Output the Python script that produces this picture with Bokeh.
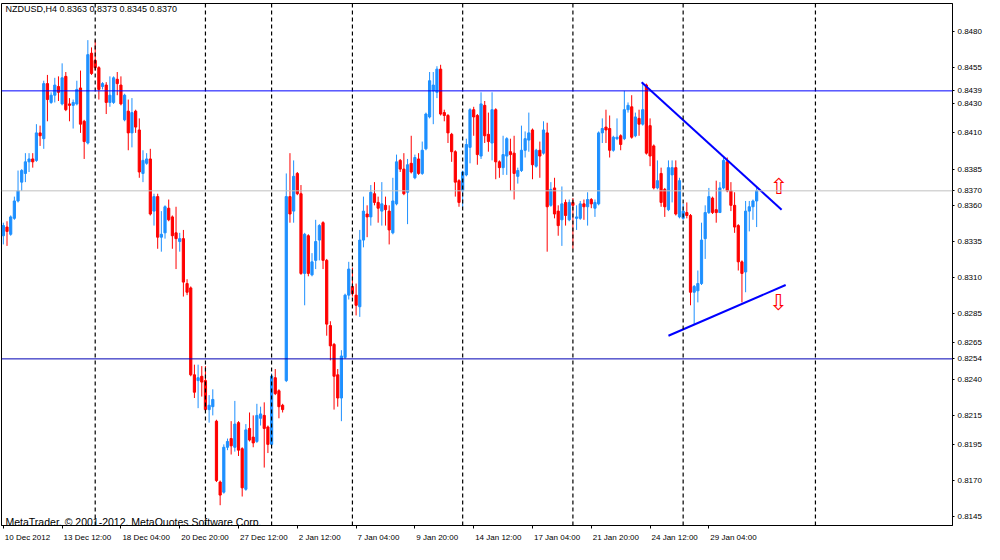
from bokeh.plotting import figure
from bokeh.models import (ColumnDataSource, Span, Label, FixedTicker,
                          Range1d, NumeralTickFormatter)
from bokeh.core.properties import value
from bokeh.embed import file_html
from bokeh.resources import INLINE

symbol_title = "NZDUSD,H4  0.8363 0.8373 0.8345 0.8370"
copyright_text = "MetaTrader, \u00a9 2001-2012, MetaQuotes Software Corp."

open_ = [0.8339, 0.8345, 0.8340, 0.8351, 0.8363, 0.8376, 0.8382, 0.8390, 0.8392, 0.8391,
         0.8410, 0.8406, 0.8444, 0.8431, 0.8436, 0.8442, 0.8430, 0.8449, 0.8430, 0.8429,
         0.8430, 0.8441, 0.8418, 0.8403, 0.8465, 0.8460, 0.8455, 0.8442, 0.8443, 0.8431,
         0.8431, 0.8447, 0.8443, 0.8419, 0.8425, 0.8410, 0.8425, 0.8412, 0.8382, 0.8389,
         0.8392, 0.8356, 0.8366, 0.8338, 0.8341, 0.8358, 0.8352, 0.8341, 0.8335, 0.8337,
         0.8306, 0.8303, 0.8243, 0.8239, 0.8242, 0.8239, 0.8219, 0.8221, 0.8211, 0.8169,
         0.8162, 0.8193, 0.8199, 0.8193, 0.8210, 0.8192, 0.8164, 0.8206, 0.8200, 0.8197,
         0.8213, 0.8215, 0.8207, 0.8195, 0.8241, 0.8232, 0.8222, 0.8239, 0.8366, 0.8356,
         0.8382, 0.8368, 0.8313, 0.8339, 0.8312, 0.8322, 0.8336, 0.8348, 0.8322, 0.8277,
         0.8264, 0.8243, 0.8227, 0.8255, 0.8298, 0.8304, 0.8298, 0.8290, 0.8336, 0.8354,
         0.8352, 0.8368, 0.8362, 0.8356, 0.8360, 0.8356, 0.8341, 0.8361, 0.8391, 0.8385,
         0.8369, 0.8389, 0.8379, 0.8392, 0.8382, 0.8399, 0.8421, 0.8439, 0.8438, 0.8454,
         0.8424, 0.8422, 0.8409, 0.8397, 0.8377, 0.8370, 0.8381, 0.8400, 0.8426, 0.8422,
         0.8394, 0.8429, 0.8409, 0.8403, 0.8426, 0.8390, 0.8386, 0.8394, 0.8397, 0.8396,
         0.8380, 0.8384, 0.8398, 0.8405, 0.8412, 0.8387, 0.8398, 0.8396, 0.8410, 0.8360,
         0.8372, 0.8356, 0.8350, 0.8362, 0.8350, 0.8362, 0.8351, 0.8351, 0.8361, 0.8359,
         0.8364, 0.8358, 0.8361, 0.8410, 0.8414, 0.8413, 0.8398, 0.8406, 0.8408, 0.8406,
         0.8426, 0.8428, 0.8408, 0.8420, 0.8416, 0.8443, 0.8415, 0.8401, 0.8372, 0.8382,
         0.8371, 0.8357, 0.8381, 0.8386, 0.8352, 0.8351, 0.8355, 0.8353, 0.8300, 0.8301,
         0.8306, 0.8337, 0.8355, 0.8365, 0.8357, 0.8355, 0.8372, 0.8390, 0.8370, 0.8360,
         0.8346, 0.8321, 0.8314, 0.8356, 0.8359, 0.8363]

high = [0.8348, 0.8349, 0.8353, 0.8366, 0.8384, 0.8385, 0.8396, 0.8396, 0.8396, 0.8416,
        0.8415, 0.8446, 0.8450, 0.8438, 0.8448, 0.8449, 0.8458, 0.8452, 0.8434, 0.8433,
        0.8446, 0.8453, 0.8419, 0.8474, 0.8469, 0.8474, 0.8456, 0.8445, 0.8445, 0.8449,
        0.8449, 0.8452, 0.8449, 0.8437, 0.8433, 0.8434, 0.8426, 0.8420, 0.8398, 0.8396,
        0.8399, 0.8368, 0.8368, 0.8356, 0.8360, 0.8364, 0.8353, 0.8359, 0.8341, 0.8343,
        0.8309, 0.8304, 0.8250, 0.8250, 0.8249, 0.8249, 0.8229, 0.8233, 0.8212, 0.8170,
        0.8195, 0.8199, 0.8211, 0.8225, 0.8211, 0.8193, 0.8209, 0.8217, 0.8215, 0.8223,
        0.8221, 0.8224, 0.8208, 0.8244, 0.8247, 0.8233, 0.8223, 0.8382, 0.8396, 0.8391,
        0.8383, 0.8374, 0.8341, 0.8340, 0.8327, 0.8350, 0.8347, 0.8349, 0.8323, 0.8280,
        0.8265, 0.8247, 0.8260, 0.8299, 0.8321, 0.8317, 0.8306, 0.8343, 0.8366, 0.8360,
        0.8374, 0.8376, 0.8366, 0.8376, 0.8366, 0.8360, 0.8379, 0.8395, 0.8392, 0.8396,
        0.8392, 0.8408, 0.8395, 0.8396, 0.8404, 0.8424, 0.8452, 0.8452, 0.8456, 0.8457,
        0.8426, 0.8423, 0.8410, 0.8398, 0.8378, 0.8384, 0.8406, 0.8427, 0.8428, 0.8423,
        0.8438, 0.8432, 0.8424, 0.8438, 0.8427, 0.8391, 0.8408, 0.8407, 0.8406, 0.8408,
        0.8386, 0.8415, 0.8411, 0.8424, 0.8413, 0.8399, 0.8404, 0.8418, 0.8417, 0.8376,
        0.8379, 0.8360, 0.8373, 0.8364, 0.8364, 0.8365, 0.8360, 0.8363, 0.8364, 0.8369,
        0.8365, 0.8364, 0.8411, 0.8420, 0.8426, 0.8422, 0.8408, 0.8420, 0.8409, 0.8439,
        0.8431, 0.8436, 0.8424, 0.8426, 0.8445, 0.8444, 0.8420, 0.8402, 0.8391, 0.8386,
        0.8372, 0.8391, 0.8391, 0.8391, 0.8379, 0.8361, 0.8362, 0.8354, 0.8305, 0.8315,
        0.8348, 0.8360, 0.8372, 0.8366, 0.8377, 0.8376, 0.8393, 0.8393, 0.8376, 0.8369,
        0.8347, 0.8322, 0.8363, 0.8363, 0.8364, 0.8373]

low = [0.8333, 0.8332, 0.8339, 0.8350, 0.8362, 0.8370, 0.8376, 0.8383, 0.8386, 0.8390,
       0.8401, 0.8399, 0.8418, 0.8430, 0.8431, 0.8432, 0.8429, 0.8425, 0.8418, 0.8413,
       0.8429, 0.8410, 0.8392, 0.8402, 0.8450, 0.8453, 0.8433, 0.8440, 0.8423, 0.8428,
       0.8430, 0.8436, 0.8429, 0.8418, 0.8398, 0.8400, 0.8410, 0.8379, 0.8376, 0.8388,
       0.8353, 0.8346, 0.8330, 0.8328, 0.8337, 0.8349, 0.8330, 0.8316, 0.8328, 0.8297,
       0.8298, 0.8242, 0.8227, 0.8220, 0.8228, 0.8218, 0.8210, 0.8215, 0.8169, 0.8153,
       0.8161, 0.8191, 0.8188, 0.8190, 0.8187, 0.8159, 0.8163, 0.8197, 0.8193, 0.8196,
       0.8208, 0.8179, 0.8189, 0.8194, 0.8229, 0.8213, 0.8217, 0.8238, 0.8348, 0.8348,
       0.8367, 0.8312, 0.8291, 0.8311, 0.8311, 0.8316, 0.8322, 0.8316, 0.8270, 0.8253,
       0.8219, 0.8221, 0.8211, 0.8254, 0.8295, 0.8297, 0.8284, 0.8283, 0.8331, 0.8338,
       0.8346, 0.8360, 0.8348, 0.8346, 0.8346, 0.8333, 0.8340, 0.8360, 0.8383, 0.8367,
       0.8347, 0.8382, 0.8378, 0.8381, 0.8381, 0.8398, 0.8420, 0.8416, 0.8434, 0.8422,
       0.8418, 0.8403, 0.8390, 0.8366, 0.8359, 0.8359, 0.8380, 0.8389, 0.8408, 0.8388,
       0.8392, 0.8403, 0.8397, 0.8391, 0.8378, 0.8379, 0.8381, 0.8381, 0.8370, 0.8364,
       0.8375, 0.8383, 0.8393, 0.8397, 0.8378, 0.8386, 0.8379, 0.8395, 0.8328, 0.8359,
       0.8351, 0.8339, 0.8332, 0.8346, 0.8349, 0.8330, 0.8343, 0.8350, 0.8350, 0.8346,
       0.8358, 0.8352, 0.8360, 0.8403, 0.8403, 0.8393, 0.8397, 0.8405, 0.8398, 0.8405,
       0.8424, 0.8406, 0.8407, 0.8408, 0.8415, 0.8395, 0.8387, 0.8371, 0.8371, 0.8359,
       0.8352, 0.8356, 0.8362, 0.8353, 0.8351, 0.8350, 0.8351, 0.8291, 0.8278, 0.8293,
       0.8305, 0.8323, 0.8354, 0.8354, 0.8348, 0.8355, 0.8371, 0.8369, 0.8356, 0.8341,
       0.8315, 0.8293, 0.8300, 0.8342, 0.8350, 0.8345]

close = [0.8346, 0.8342, 0.8352, 0.8363, 0.8370, 0.8384, 0.8390, 0.8392, 0.8390, 0.8410,
         0.8408, 0.8444, 0.8433, 0.8436, 0.8443, 0.8438, 0.8448, 0.8426, 0.8429, 0.8431,
         0.8440, 0.8416, 0.8404, 0.8464, 0.8451, 0.8455, 0.8440, 0.8444, 0.8431, 0.8436,
         0.8448, 0.8444, 0.8430, 0.8436, 0.8410, 0.8424, 0.8414, 0.8383, 0.8391, 0.8392,
         0.8354, 0.8366, 0.8338, 0.8340, 0.8359, 0.8350, 0.8339, 0.8337, 0.8337, 0.8307,
         0.8300, 0.8243, 0.8231, 0.8241, 0.8238, 0.8219, 0.8222, 0.8226, 0.8170, 0.8160,
         0.8193, 0.8197, 0.8194, 0.8209, 0.8191, 0.8165, 0.8205, 0.8198, 0.8196, 0.8215,
         0.8216, 0.8206, 0.8195, 0.8242, 0.8230, 0.8221, 0.8219, 0.8366, 0.8354, 0.8380,
         0.8368, 0.8313, 0.8340, 0.8313, 0.8321, 0.8335, 0.8346, 0.8322, 0.8278, 0.8263,
         0.8242, 0.8227, 0.8256, 0.8298, 0.8316, 0.8299, 0.8291, 0.8336, 0.8356, 0.8352,
         0.8369, 0.8362, 0.8358, 0.8361, 0.8357, 0.8343, 0.8363, 0.8390, 0.8385, 0.8368,
         0.8388, 0.8383, 0.8393, 0.8382, 0.8398, 0.8423, 0.8446, 0.8443, 0.8454, 0.8423,
         0.8422, 0.8410, 0.8397, 0.8376, 0.8362, 0.8383, 0.8402, 0.8426, 0.8421, 0.8395,
         0.8430, 0.8408, 0.8404, 0.8426, 0.8390, 0.8386, 0.8395, 0.8406, 0.8395, 0.8382,
         0.8384, 0.8398, 0.8406, 0.8410, 0.8388, 0.8398, 0.8394, 0.8412, 0.8359, 0.8371,
         0.8354, 0.8346, 0.8361, 0.8353, 0.8362, 0.8360, 0.8352, 0.8361, 0.8359, 0.8364,
         0.8361, 0.8362, 0.8410, 0.8413, 0.8412, 0.8398, 0.8407, 0.8407, 0.8402, 0.8426,
         0.8429, 0.8407, 0.8421, 0.8416, 0.8426, 0.8396, 0.8394, 0.8372, 0.8377, 0.8362,
         0.8359, 0.8386, 0.8386, 0.8354, 0.8377, 0.8356, 0.8353, 0.8300, 0.8304, 0.8306,
         0.8336, 0.8355, 0.8366, 0.8355, 0.8355, 0.8372, 0.8391, 0.8370, 0.8360, 0.8345,
         0.8321, 0.8313, 0.8356, 0.8359, 0.8363, 0.8370]

price_ticks = [0.8480, 0.8455, 0.8430, 0.8410, 0.8385, 0.8360, 0.8335, 0.8310,
               0.8285, 0.8265, 0.8240, 0.8215, 0.8195, 0.8170, 0.8145]
time_tick_bars = [0, 16, 32, 48, 64, 80, 96, 112, 128, 144, 160, 176, 192]
time_tick_labels = ["10 Dec 2012", "13 Dec 12:00", "18 Dec 04:00", "20 Dec 20:00",
                    "27 Dec 12:00", "2 Jan 12:00", "7 Jan 04:00", "9 Jan 20:00",
                    "14 Jan 12:00", "17 Jan 04:00", "21 Jan 20:00", "24 Jan 12:00",
                    "29 Jan 04:00"]
separator_bars = [25, 55, 73, 95, 125, 155, 185, 221]

level_prices = [0.8439, 0.8254]
bid_price = 0.8370

trend_x0 = [173.7, 181.0]
trend_y0 = [0.8445, 0.8270]
trend_x1 = [211.8, 212.9]
trend_y1 = [0.8357, 0.8305]

arrow_bars = [211.0, 210.9]
arrow_prices = [0.8373, 0.8293]
arrow_symbols = ["\u21e7", "\u21e9"]

assert len(open_) == len(high) == len(low) == len(close)

BULL = "#1E90FF"
BEAR = "#FF0000"
FONT = "Liberation Sans"
AXIS_PX = 8

n = len(open_)
src = ColumnDataSource(dict(
    x=list(range(n)), o=open_, h=high, l=low, c=close,
    top=[max(a, b) for a, b in zip(open_, close)],
    bottom=[min(a, b) for a, b in zip(open_, close)],
    color=[BULL if c >= o else BEAR for o, c in zip(open_, close)],
))

W, H = 984, 544
MB_LEFT, MB_TOP, MB_RIGHT, MB_BOTTOM = 1, 3, 31, 16
FRAME_W = W - MB_LEFT - MB_RIGHT
FRAME_H = H - MB_TOP - MB_BOTTOM
X0, X1 = -0.5, 258.3

p = figure(width=W, height=H, x_range=Range1d(X0, X1),
           y_range=Range1d(0.81390, 0.84993),
           output_backend="svg", toolbar_location=None,
           y_axis_location="right",
           min_border_left=MB_LEFT, min_border_top=MB_TOP,
           min_border_right=MB_RIGHT, min_border_bottom=MB_BOTTOM,
           background_fill_color="white", border_fill_color="white")
p.grid.visible = False
p.outline_line_color = "black"
p.outline_line_width = 1

# price axis (regular ticks plus the three marked levels)
ya = p.yaxis[0]
ya.ticker = FixedTicker(ticks=price_ticks + level_prices + [bid_price])
ya.formatter = NumeralTickFormatter(format="0.0000")
ya.major_tick_in = 0
ya.major_tick_out = 2
ya.minor_tick_in = 0
ya.minor_tick_out = 0
ya.major_label_standoff = 3
ya.major_label_text_font = FONT
ya.major_label_text_font_size = f"{AXIS_PX}px"
ya.major_label_text_color = "black"
ya.axis_line_color = "black"

# time axis: MetaTrader puts the label text to the right of its tick mark.
# tick marks = minor ticks at the bar, labels = major ticks shifted by half the text width.
CHAR_EM = {" ": 0.278, ":": 0.278, "D": 0.722, "J": 0.5, "a": 0.556, "c": 0.5,
           "e": 0.556, "n": 0.556}
px_per_bar = FRAME_W / (X1 - X0)


def text_w(s):
    return sum(CHAR_EM.get(ch, 0.556) for ch in s) * AXIS_PX


label_pos = [round(b + (text_w(t) / 2 + 1.5) / px_per_bar, 3)
             for b, t in zip(time_tick_bars, time_tick_labels)]
xa = p.xaxis[0]
xa.ticker = FixedTicker(ticks=label_pos, minor_ticks=time_tick_bars)
xa.major_label_overrides = {pos: t for pos, t in zip(label_pos, time_tick_labels)}
xa.major_tick_in = 0
xa.major_tick_out = 0
xa.minor_tick_in = 0
xa.minor_tick_out = 3
xa.minor_tick_line_color = "black"
xa.major_label_standoff = 4
xa.major_label_text_font = FONT
xa.major_label_text_font_size = f"{AXIS_PX}px"
xa.major_label_text_color = "black"
xa.axis_line_color = "black"

# candles
p.segment(x0="x", y0="l", x1="x", y1="h", color="color", line_width=1, source=src)
p.vbar(x="x", width=0.6, top="top", bottom="bottom", fill_color="color",
       line_color="color", line_width=1, source=src)

# period separators
for b in separator_bars:
    p.add_layout(Span(location=b, dimension="height", line_color="black",
                      line_dash="4 3", line_width=1.2))

# horizontal levels
p.add_layout(Span(location=level_prices[0], dimension="width", line_color="#0000FF", line_width=1))
p.add_layout(Span(location=level_prices[1], dimension="width", line_color="#0000B4", line_width=1))
p.add_layout(Span(location=bid_price, dimension="width", line_color="#C0C0C0", line_width=1))

# trend lines
p.segment(x0=trend_x0, y0=trend_y0, x1=trend_x1, y1=trend_y1,
          line_color="#0000FF", line_width=2)

# arrows
p.text(x=arrow_bars, y=arrow_prices, text=arrow_symbols, text_color="#FF0000",
       text_font=value("DejaVu Sans"), text_font_size="22px",
       text_align="center", text_baseline="middle")

# titles
p.add_layout(Label(x=4, y=FRAME_H - 3, x_units="screen", y_units="screen",
                   text=symbol_title, text_font=FONT, text_font_size="9px",
                   text_color="black", text_baseline="top"))
p.add_layout(Label(x=4, y=4, x_units="screen", y_units="screen",
                   text=copyright_text, text_font=FONT, text_font_size="10.5px",
                   text_color="black", text_baseline="alphabetic"))

open("out.html", "w").write(file_html(p, INLINE))
